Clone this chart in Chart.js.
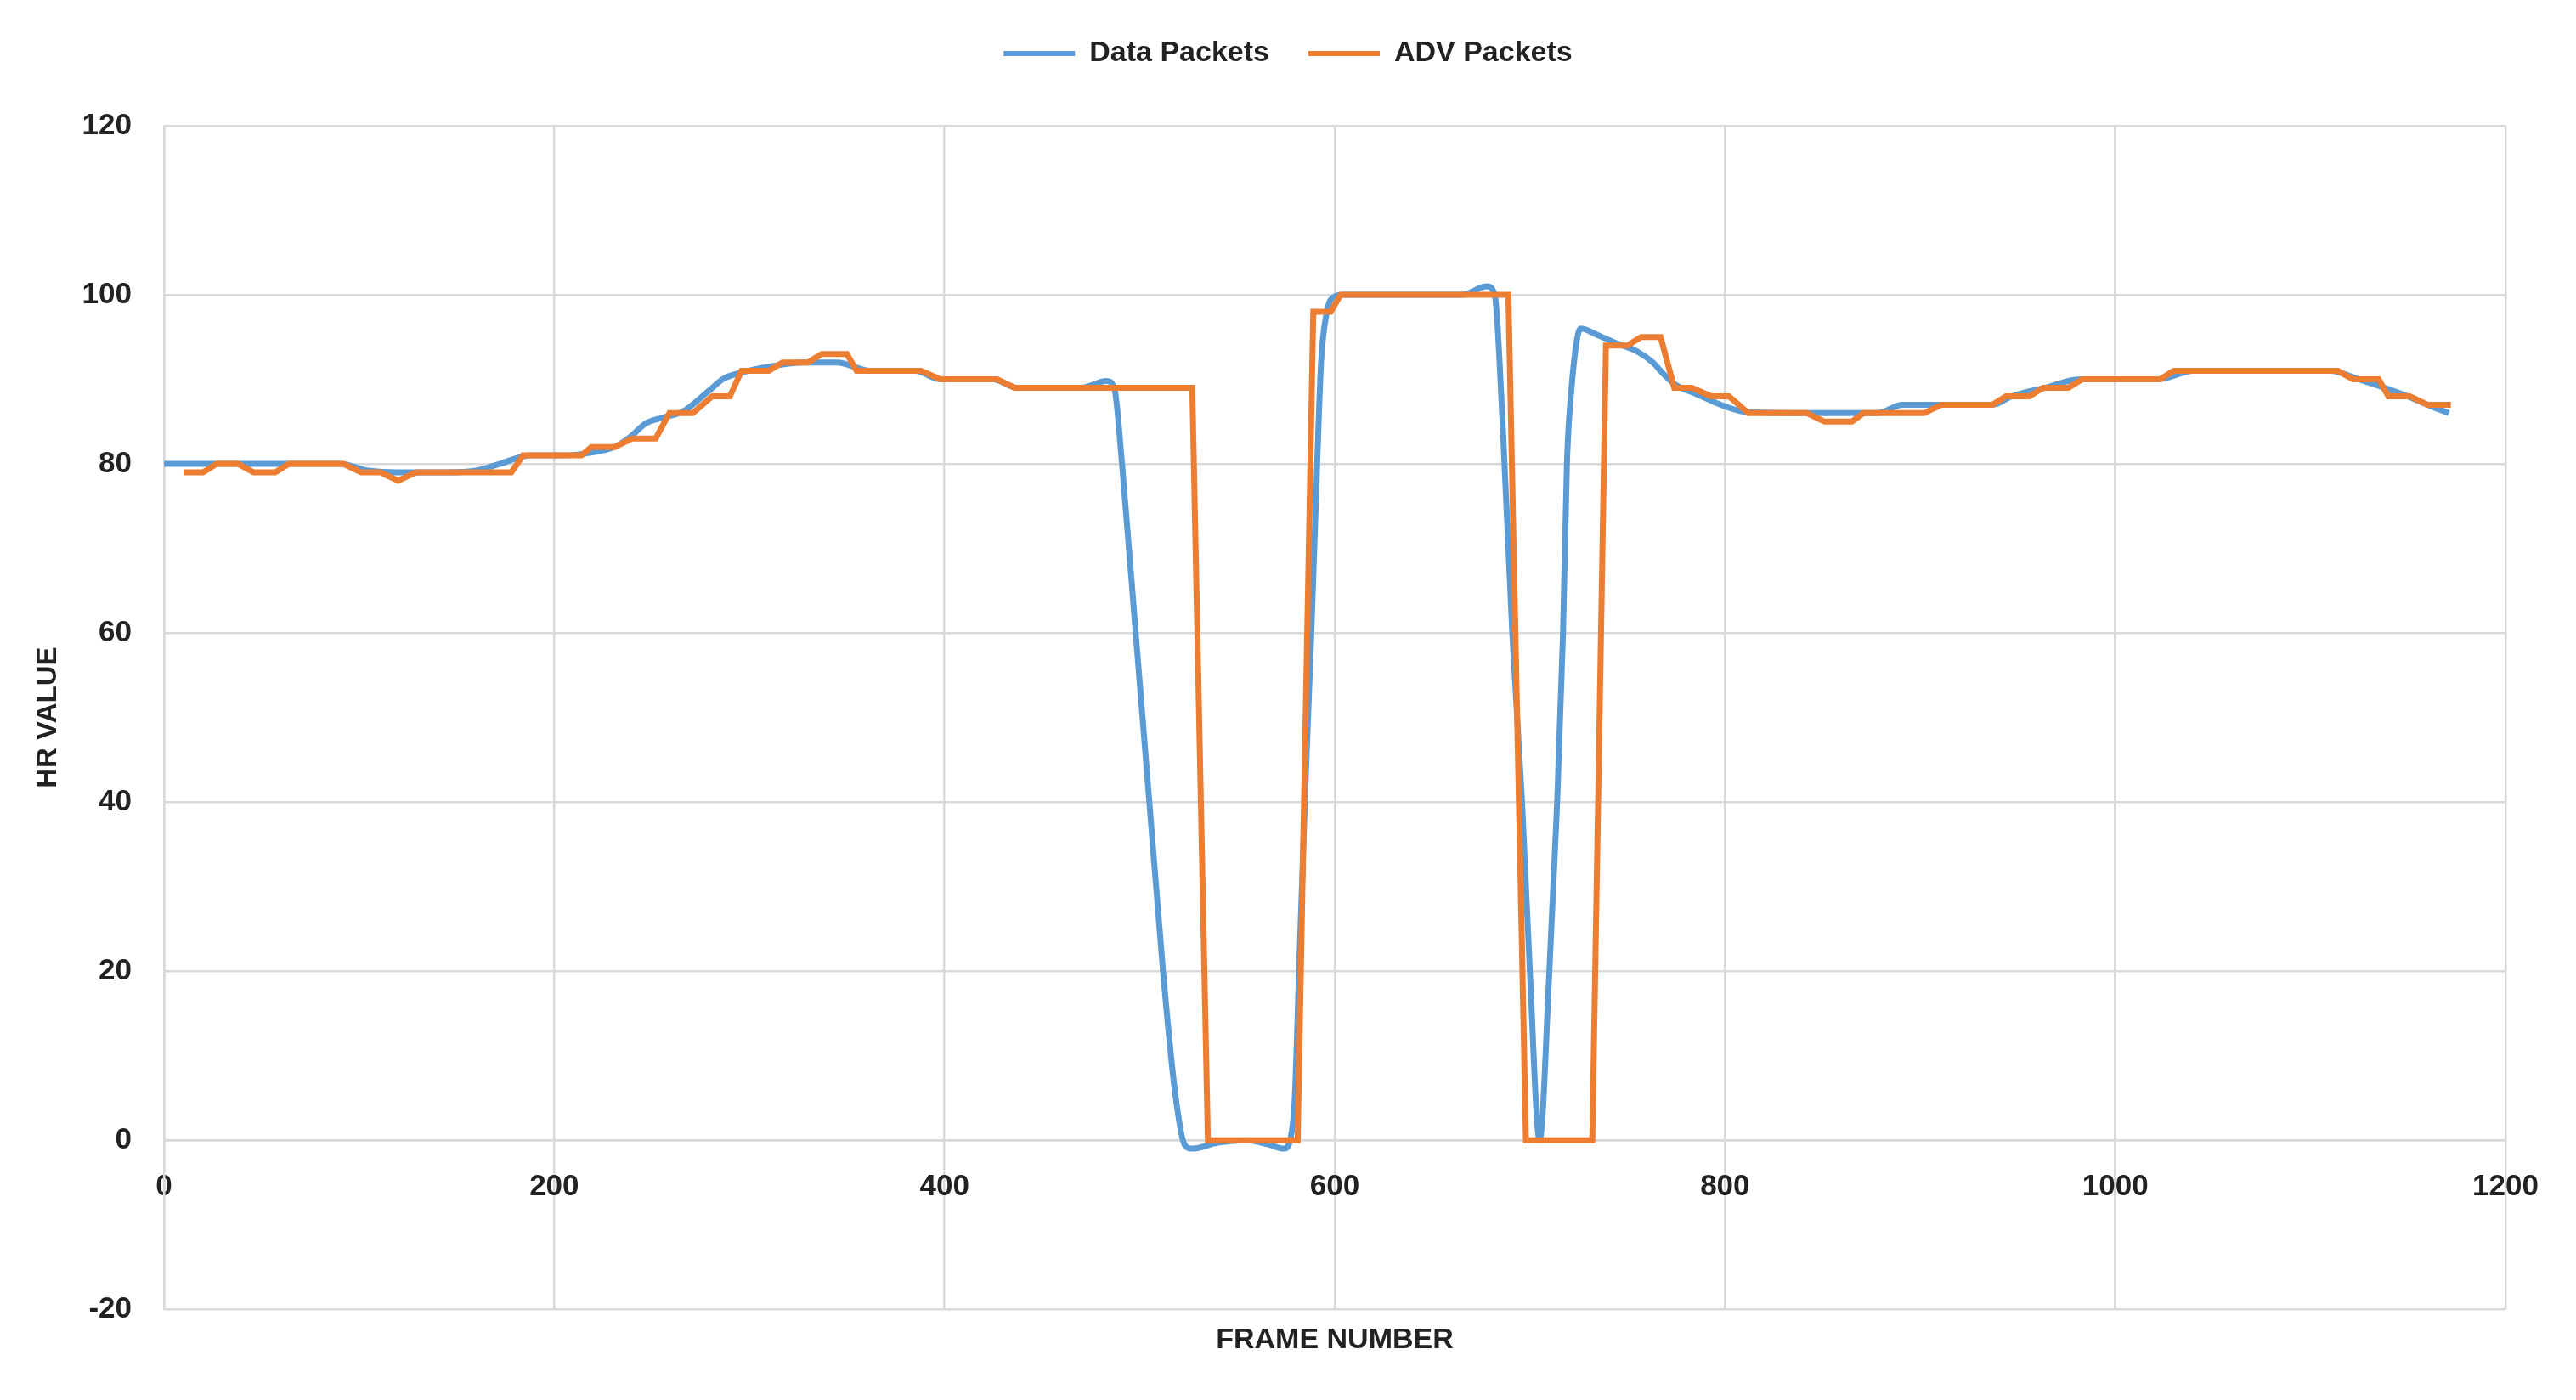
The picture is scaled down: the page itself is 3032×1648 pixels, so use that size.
<!DOCTYPE html>
<html>
<head>
<meta charset="utf-8">
<title>HR value per frame</title>
<script src="https://cdn.jsdelivr.net/npm/chart.js@4.4.0/dist/chart.umd.min.js"></script>
<style>
    html, body { margin: 0; padding: 0; background: #ffffff; }
    #box { width: 3032px; height: 1648px; }
</style>
</head>
<body>
<div id="box"><canvas id="hrChart"></canvas></div>
<script>
// frame number / HR value
var dataFrames = [0, 30, 60, 90, 105, 120, 145, 160, 172, 188, 205, 218, 231, 239, 247, 256, 266, 279, 287, 296,
    310, 328, 345, 362, 385, 398, 425, 437, 470, 483, 487, 491, 498, 505, 512, 518, 523, 527, 540, 555,
    566, 574, 579, 582, 585, 588, 591, 593, 596, 600, 605, 640, 665, 678, 682, 686, 691, 696, 700, 705,
    710, 714, 717, 719, 721, 726, 735, 744, 755, 763, 769, 775, 785, 800, 812, 845, 878, 891, 937, 947,
    964, 982, 1022, 1040, 1110, 1125, 1138, 1150, 1160, 1171];
var dataValues = [80, 80, 80, 80, 79.2, 79, 79, 79.2, 80, 81, 81, 81.3, 82, 83.2, 84.8, 85.5, 86.2, 88.6, 90.1, 90.8,
    91.5, 92, 92, 91, 91, 90, 90, 89, 89, 89.8, 89, 80, 60, 40, 20, 6, -0.5, -1, -0.3, 0,
    -0.5, -1, 3, 22, 42, 60, 80, 92, 98, 99.8, 100, 100, 100, 101, 100, 85, 60, 40, 20, 0,
    20, 40, 60, 80, 88, 96, 95.2, 94.3, 93.3, 92, 90.5, 89.3, 88.3, 86.8, 86.1, 86, 86, 87, 87, 88,
    89, 90, 90, 91, 91, 90, 89, 88, 87, 86];

var advFrames = [10, 20, 27, 38, 46, 57, 64, 92, 101, 111, 120, 129, 178, 184, 214, 219, 231, 240, 252, 259,
    271, 281, 290, 296, 310, 317, 330, 337, 350, 355, 388, 398, 427, 436, 527, 535, 581, 589, 598, 603,
    689, 698, 732, 739, 750, 757, 767, 774, 783, 793, 802, 812, 842, 851, 865, 871, 902, 911, 937, 944,
    956, 963, 976, 983, 1023, 1030, 1114, 1122, 1135, 1140, 1151, 1160, 1172];
var advValues = [79, 79, 80, 80, 79, 79, 80, 80, 79, 79, 78, 79, 79, 81, 81, 82, 82, 83, 83, 86,
    86, 88, 88, 91, 91, 92, 92, 93, 93, 91, 91, 90, 90, 89, 89, 0, 0, 98, 98, 100,
    100, 0, 0, 94, 94, 95, 95, 89, 89, 88, 88, 86, 86, 85, 85, 86, 86, 87, 87, 88,
    88, 89, 89, 90, 90, 91, 91, 90, 90, 88, 88, 87, 87];

var xTicks = [0, 200, 400, 600, 800, 1000, 1200];
var yTicks = [-20, 0, 20, 40, 60, 80, 100, 120];

function toPoints(xs, ys) {
    return xs.map(function (x, i) { return {x: x, y: ys[i]}; });
}

var fontName = "'Liberation Sans', Arial, sans-serif";
var textColor = '#222222';
var gridColor = '#d9d9d9';

// keep some empty room under the legend, like the original has
var legendGap = {
    id: 'legendGap',
    beforeLayout: function (chart) {
        var lg = chart.legend;
        if (lg && !lg.gapAdded) {
            var fit = lg.fit;
            lg.fit = function () {
                fit.call(this);
                this.height += 58;
            };
            lg.gapAdded = true;
        }
    }
};

var hrChart = new Chart(document.getElementById('hrChart'), {
    type: 'line',
    data: {
        datasets: [
            {
                label: 'Data Packets',
                data: toPoints(dataFrames, dataValues),
                borderColor: '#5B9BD5',
                backgroundColor: '#5B9BD5',
                borderWidth: 7,
                pointRadius: 0,
                cubicInterpolationMode: 'monotone',
                order: 1
            },
            {
                label: 'ADV Packets',
                data: toPoints(advFrames, advValues),
                borderColor: '#ED7D31',
                backgroundColor: '#ED7D31',
                borderWidth: 7,
                pointRadius: 0,
                tension: 0,
                order: 0
            }
        ]
    },
    plugins: [legendGap],
    options: {
        responsive: true,
        maintainAspectRatio: false,
        devicePixelRatio: 1,
        animation: false,
        layout: {
            padding: 0
        },
        scales: {
            x: {
                type: 'linear',
                position: {y: 0},
                min: xTicks[0],
                max: xTicks[xTicks.length - 1],
                afterBuildTicks: function (scale) {
                    scale.ticks = xTicks.map(function (v) { return {value: v}; });
                },
                afterFit: function (scale) {
                    scale.paddingRight = 83;
                },
                grid: {color: gridColor, lineWidth: 2.5, drawTicks: false},
                border: {color: gridColor, width: 2.5},
                ticks: {
                    padding: 34,
                    maxRotation: 0,
                    color: textColor,
                    font: {family: fontName, size: 35, weight: 'bold'},
                    callback: function (v) { return String(v); }
                }
            },
            y: {
                min: yTicks[0],
                max: yTicks[yTicks.length - 1],
                afterBuildTicks: function (scale) {
                    scale.ticks = yTicks.map(function (v) { return {value: v}; });
                },
                afterFit: function (scale) {
                    scale.width = 193;
                },
                grid: {color: gridColor, lineWidth: 2.5, drawTicks: false},
                border: {color: gridColor, width: 2.5},
                ticks: {
                    padding: 38,
                    color: textColor,
                    font: {family: fontName, size: 35, weight: 'bold'}
                },
                title: {
                    display: true,
                    text: 'HR VALUE',
                    color: textColor,
                    padding: {top: 37, bottom: 0},
                    font: {family: fontName, size: 33, weight: 'bold'}
                }
            }
        },
        plugins: {
            legend: {
                display: true,
                position: 'top',
                labels: {
                    boxWidth: 84,
                    boxHeight: 6,
                    padding: 46,
                    color: textColor,
                    font: {family: fontName, size: 34, weight: 'bold'},
                    sort: function (a, b) { return a.datasetIndex - b.datasetIndex; },
                    generateLabels: function (chart) {
                        var items = Chart.defaults.plugins.legend.labels.generateLabels(chart);
                        items.forEach(function (it) { it.lineWidth = 0; });
                        return items;
                    }
                }
            },
            title: {
                display: true,
                position: 'bottom',
                fullSize: false,
                text: 'FRAME NUMBER',
                color: textColor,
                padding: {top: 16, bottom: 50},
                font: {family: fontName, size: 34, weight: 'bold'}
            },
            tooltip: {enabled: false}
        }
    }
});
</script>
</body>
</html>
